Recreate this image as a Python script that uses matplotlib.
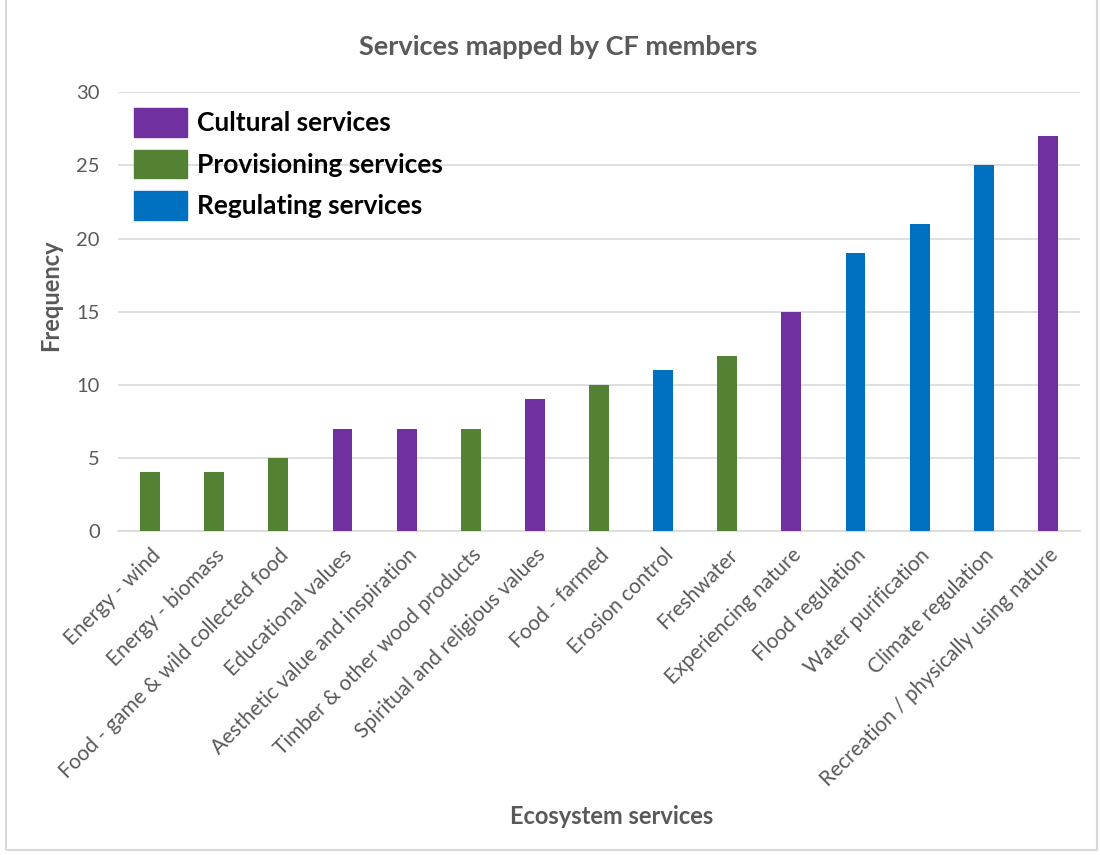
import matplotlib
matplotlib.use("Agg")
import matplotlib.pyplot as plt
from matplotlib.patches import Patch, Rectangle

# services, sorted by frequency
services = ["Energy - wind", "Energy - biomass", "Food - game & wild collected food",
            "Educational values", "Aesthetic value and inspiration",
            "Timber & other wood products", "Spiritual and religious values",
            "Food - farmed", "Erosion control", "Freshwater", "Experiencing nature",
            "Flood regulation", "Water purification", "Climate regulation",
            "Recreation / physically using nature"]
frequency = [4, 4, 5, 7, 7, 7, 9, 10, 11, 12, 15, 19, 21, 25, 27]
category = ["Provisioning", "Provisioning", "Provisioning", "Cultural", "Cultural",
            "Provisioning", "Cultural", "Provisioning", "Regulating", "Provisioning",
            "Cultural", "Regulating", "Regulating", "Regulating", "Cultural"]

groups = ["Cultural", "Provisioning", "Regulating"]
group_labels = ["Cultural services", "Provisioning services", "Regulating services"]
colours = {"Cultural": "#7030A0", "Provisioning": "#548235", "Regulating": "#0070C0"}

plt.rcParams['font.family'] = ['Lato', 'DejaVu Sans']
grey = "#595959"

fig = plt.figure(figsize=(11, 8.55), dpi=100)
ax = fig.add_axes([0.1073, 0.379, 0.8745, 0.513])

x = range(len(services))
ax.bar(x, frequency, width=0.31, color=[colours[c] for c in category], zorder=3)

ax.set_xlim(-0.5, len(services) - 0.5)
ax.set_ylim(0, 30)
ax.set_yticks(range(0, 31, 5))
ax.grid(axis="y", color="#D9D9D9", linewidth=1.2, zorder=0)
for s in ["top", "right", "left"]:
    ax.spines[s].set_visible(False)
ax.spines["bottom"].set_color("#D9D9D9")
ax.spines["bottom"].set_linewidth(1.2)
ax.tick_params(length=0, colors=grey, labelsize=14.5)
ax.tick_params(axis="y", pad=13)
ax.set_xticks(list(x))
ax.set_xticklabels(services, rotation=45, ha="right", rotation_mode="anchor", fontsize=15)
ax.tick_params(axis="x", pad=10)

# axis titles and chart title
fig.text(0.046, 0.655, "Frequency", color=grey, fontsize=17, fontweight="bold",
         rotation=90, ha="center", va="center")
fig.text(0.556, 0.045, "Ecosystem services", color=grey, fontsize=17,
         fontweight="bold", ha="center", va="center")
fig.text(0.507, 0.945, "Services mapped by CF members", color=grey, fontsize=19.5,
         fontweight="bold", ha="center", va="center")

handles = [Patch(color=colours[g]) for g in groups]
ax.legend(handles, group_labels, loc="upper left", bbox_to_anchor=(0.0, 1.0),
          frameon=False, prop={"size": 19, "weight": "bold"},
          handlelength=2.0, handleheight=1.3, labelspacing=0.48, handletextpad=0.4,
          borderaxespad=0.2)

fig.patches.append(Rectangle((0.005, 0.006), 0.992, 1.1, transform=fig.transFigure,
                             fill=False, edgecolor="#D9D9D9", linewidth=1.5))

fig.savefig("out.png", dpi=100)
